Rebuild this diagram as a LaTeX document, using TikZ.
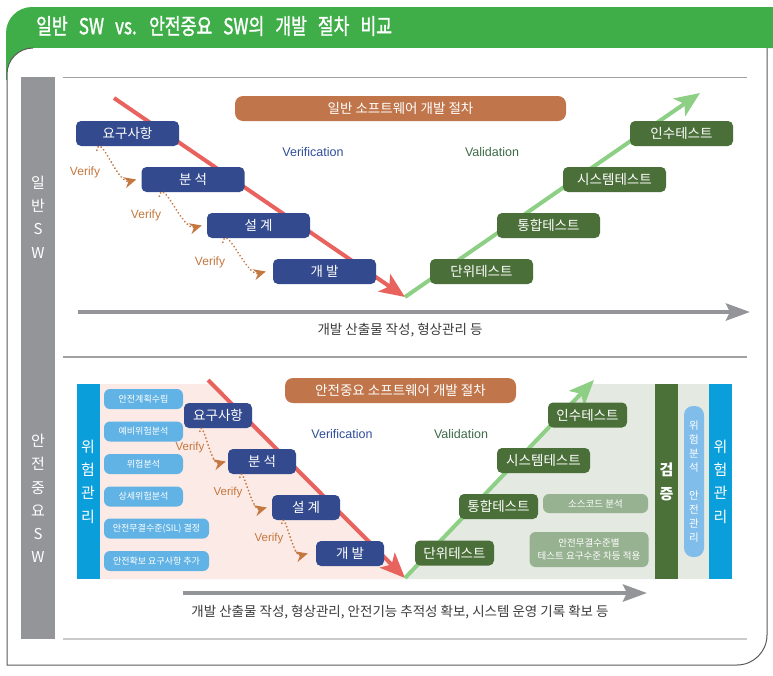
\documentclass[tikz,border=0pt]{standalone}
\usepackage{fontspec}
\setmainfont{Noto Sans CJK KR}
\newfontfamily\titlefont[FakeStretch=0.78, FakeBold=1.3]{Noto Sans CJK KR}
\newfontfamily\latinfont{Liberation Sans}
\usetikzlibrary{arrows.meta, positioning, calc}
\definecolor{hdrgreen}{HTML}{3FAE49}
\definecolor{framecol}{HTML}{5A5A5A}
\definecolor{sidegray}{HTML}{939598}
\definecolor{rulegray}{HTML}{A0A0A0}
\definecolor{rulelight}{HTML}{CACACA}
\definecolor{vred}{HTML}{E8625E}
\definecolor{vgreen}{HTML}{8DCF85}
\definecolor{vproc}{HTML}{344A8E}
\definecolor{vtest}{HTML}{4B6F39}
\definecolor{vorange}{HTML}{C0754A}
\definecolor{vbrown}{HTML}{C4773F}
\definecolor{vveri}{HTML}{2F4E9A}
\definecolor{vvali}{HTML}{3E6B47}
\definecolor{vpink}{HTML}{FCEAE6}
\definecolor{vsagebg}{HTML}{E4EAE2}
\definecolor{vrisk}{HTML}{0A9FDA}
\definecolor{vitem}{HTML}{62B3E5}
\definecolor{vsage}{HTML}{97B291}
\definecolor{vcheck}{HTML}{4B7139}
\definecolor{vlblue}{HTML}{80BDEA}
\definecolor{vtext}{HTML}{3C3C3C}
\tikzset{
  procbox/.style={rectangle, rounded corners=5pt, fill=vproc, text=white,
              font=\fontsize{13.5}{15}\selectfont, inner sep=0pt, minimum height=25pt},
  testbox/.style={procbox, fill=vtest},
  stagebar/.style={rectangle, rounded corners=8pt, fill=vorange, text=white,
              font=\fontsize{13.5}{15}\selectfont, inner sep=0pt, minimum height=25pt},
  riskitem/.style={rectangle, rounded corners=6pt, fill=vitem, text=white,
              font=\fontsize{9}{11}\selectfont, inner sep=0pt, minimum height=20pt, minimum width=79pt},
  checkitem/.style={rectangle, rounded corners=6pt, fill=vsage, text=white,
              font=\fontsize{9.5}{13.5}\selectfont, inner sep=0pt, align=center},
  vbar/.style={rectangle, inner sep=0pt, text=white, align=center,
              minimum height=195pt, minimum width=23pt},
  sidelbl/.style={text=white, align=center, inner sep=0pt, font=\fontsize{15}{23.3}\selectfont},
  vline/.style={line width=4pt, -{Stealth[length=25pt, width=21pt, inset=6pt]}},
  flowaxis/.style={line width=4.5pt, draw=sidegray, -{Stealth[length=24pt, width=17pt, inset=4pt]}},
  verifyarr/.style={draw=vbrown, line width=2pt, dash pattern=on 0.01pt off 3.6pt, line cap=round,
              -{Stealth[length=12pt, width=11pt]}},
  vlabel/.style={text=vbrown, inner sep=0pt, font=\latinfont\fontsize{12}{14}\selectfont},
  phaselbl/.style={inner sep=0pt, font=\latinfont\fontsize{12.5}{14}\selectfont},
  notelbl/.style={text=vtext, inner sep=0pt, font=\fontsize{13.5}{15}\selectfont},
}

\begin{document}
\begin{tikzpicture}[x=1pt, y=-1pt]
  \useasboundingbox (0,0) rectangle (773,675);
  % frame and title
  \fill[hdrgreen] (773,48) -- (773,7) -- (32,7) arc[start angle=270, end angle=180, radius=26]
    -- (6,80) -- (40,80) -- (40,48) -- cycle;
  \fill[white] (767,48) -- (33,48) arc[start angle=270, end angle=180, radius=26]
    -- (7,665) -- (737,665) arc[start angle=90, end angle=0, radius=30] -- cycle;
  \draw[framecol, line width=1pt] (33,48) arc[start angle=270, end angle=180, radius=26]
    -- (7,665) -- (737,665) arc[start angle=90, end angle=0, radius=30] -- (767,48);
  \node[anchor=west, text=white, inner sep=0pt, font=\titlefont\fontsize{22}{26}\selectfont]
    (title) at (36,26) {\spaceskip=11pt\relax 일반 SW vs. 안전중요 SW의 개발 절차 비교};

  \fill[sidegray] (21,77) rectangle (55,639);
  \node[sidelbl] (sideA) at (38,217) {일\\반\\S\\W};
  \node[sidelbl] (sideB) at (38,498.5) {안\\전\\중\\요\\S\\W};
  \draw[rulegray, line width=1pt] (63,77) -- (747,77);
  \draw[rulegray, line width=1.3pt] (63,357) -- (747,357);
  \draw[rulelight, line width=1.3pt] (63,639) -- (747,639);

  % general SW
  \coordinate (redA) at (114,98);
  \coordinate (vA) at (405,297);
  \coordinate (greenA) at (700,93);
  \draw[vline, vred] (redA) -- (vA);
  \draw[vline, vgreen] (vA) -- (greenA);
  \node[stagebar, minimum width=331pt] (stageA) at (400.5,108.5) {일반 소프트웨어 개발 절차};
  \node[procbox, minimum width=103pt] (reqA) at (127.5,133.5) {요구사항};
  \node[procbox, minimum width=103pt] (anaA) at (193,179.5) {분 석};
  \node[procbox, minimum width=103pt] (desA) at (258.5,225.5) {설 계};
  \node[procbox, minimum width=103pt] (devA) at (324.5,271.5) {개 발};
  \node[testbox, minimum width=103pt] (unitA) at (481.5,271.5) {단위테스트};
  \node[testbox, minimum width=103pt] (intA) at (548.5,225.5) {통합테스트};
  \node[testbox, minimum width=103pt] (sysA) at (614.5,179.5) {시스템테스트};
  \node[testbox, minimum width=103pt] (accA) at (681.5,133.5) {인수테스트};
  \node[phaselbl, text=vveri] (veriA) at (313,152) {Verification};
  \node[phaselbl, text=vvali] (valiA) at (492,152) {Validation};
  \draw[verifyarr] ($(reqA.south west)+(21,4)$) to[out=80, in=195] ($(anaA.west)+(-5,0)$);
  \draw[verifyarr] ($(anaA.south west)+(18,4)$) to[out=80, in=195] ($(desA.west)+(-5,0)$);
  \draw[verifyarr] ($(desA.south west)+(16,4)$) to[out=80, in=195] ($(devA.west)+(-7,0)$);
  \node[vlabel] (vfyA1) at (85,172) {Verify};
  \node[vlabel] (vfyA2) at (146,215) {Verify};
  \node[vlabel] (vfyA3) at (210,262) {Verify};
  \coordinate (axA0) at (78,312);
  \coordinate (axA1) at (750,312);
  \draw[flowaxis] (axA0) -- (axA1);
  \node[notelbl] (noteA) at (400,330) {개발 산출물 작성, 형상관리 등};

  % safety-critical SW
  \fill[vpink] (99,384) -- (212,384) -- (405,579) -- (99,579) -- cycle;
  \fill[vsagebg] (405,579) -- (589,384) -- (655,384) -- (655,579) -- cycle;
  \fill[vsagebg] (678,384) rectangle (709,579);
  \node[vbar, fill=vrisk, font=\fontsize{15}{23.3}\selectfont] (riskL) at (88,481.5) {위\\험\\관\\리};
  \node[vbar, fill=vcheck, font=\bfseries\fontsize{15}{24}\selectfont] (checkB) at (666.5,481.5) {검\\증};
  \node[vbar, fill=vrisk, font=\fontsize{15}{23.3}\selectfont] (riskR) at (720.5,481.5) {위\\험\\관\\리};
  \node[rectangle, rounded corners=9pt, fill=vlblue, text=white, inner sep=0pt, align=center,
    minimum width=20pt, minimum height=151pt, font=\fontsize{10.5}{14}\selectfont]
    (safeB) at (694,481.5) {위\\험\\분\\석\\[14pt]안\\전\\관\\리};

  \node[riskitem] (planB) at (143.5,399) {안전계획수립};
  \node[riskitem] (prelB) at (143.5,431.5) {예비위험분석};
  \node[riskitem] (hazB) at (143.5,464) {위험분석};
  \node[riskitem] (detB) at (143.5,496.5) {상세위험분석};
  \node[riskitem, minimum width=105pt] (silB) at (156.5,528.5) {안전무결수준(SIL) 결정};
  \node[riskitem, minimum width=105pt] (addB) at (156.5,561) {안전확보 요구사항 추가};

  \coordinate (redB) at (208,380);
  \coordinate (vB) at (405,578);
  \coordinate (greenB) at (594,380);
  \draw[vline, vred] (redB) -- (vB);
  \draw[vline, vgreen] (vB) -- (greenB);
  \node[stagebar, minimum width=231pt] (stageB) at (400.5,390.5) {안전중요 소프트웨어 개발 절차};
  \node[procbox, minimum width=68pt] (reqB) at (218,415.5) {요구사항};
  \node[procbox, minimum width=68pt] (anaB) at (262,461.5) {분 석};
  \node[procbox, minimum width=68pt] (desB) at (306,507.5) {설 계};
  \node[procbox, minimum width=68pt] (devB) at (350,553.5) {개 발};
  \node[testbox, minimum width=79pt] (unitB) at (454.5,553) {단위테스트};
  \node[testbox, minimum width=79pt] (intB) at (498.5,506.5) {통합테스트};
  \node[testbox, minimum width=93pt] (sysB) at (543.5,460.5) {시스템테스트};
  \node[testbox, minimum width=79pt] (accB) at (587.5,415) {인수테스트};
  \node[checkitem, minimum width=105pt, minimum height=19pt] (srcB) at (595.5,503.5) {소스코드 분석};
  \node[checkitem, minimum width=119pt, minimum height=35pt] (lvlB) at (589,549.5)
    {안전무결수준별\\테스트 요구수준 차등 적용};
  \node[phaselbl, text=vveri] (veriB) at (342,434) {Verification};
  \node[phaselbl, text=vvali] (valiB) at (461,434) {Validation};
  \draw[verifyarr] ($(reqB.south west)+(16,3)$) to[out=80, in=195] ($(anaB.west)+(-2,0)$);
  \draw[verifyarr] ($(anaB.south west)+(12,3)$) to[out=80, in=195] ($(desB.west)+(-5,0)$);
  \draw[verifyarr] ($(desB.south west)+(10,3)$) to[out=80, in=195] ($(devB.west)+(-8,0)$);
  \node[vlabel, font=\latinfont\fontsize{11.5}{13}\selectfont] (vfyB1) at (190,448) {Verify};
  \node[vlabel, font=\latinfont\fontsize{11.5}{13}\selectfont] (vfyB2) at (228,493) {Verify};
  \node[vlabel, font=\latinfont\fontsize{11.5}{13}\selectfont] (vfyB3) at (269,539) {Verify};
  \coordinate (axB0) at (183,593);
  \coordinate (axB1) at (647,593);
  \draw[flowaxis] (axB0) -- (axB1);
  \node[notelbl] (noteB) at (400,612) {개발 산출물 작성, 형상관리, 안전기능 추적성 확보, 시스템 운영 기록 확보 등};
\end{tikzpicture}
\end{document}
